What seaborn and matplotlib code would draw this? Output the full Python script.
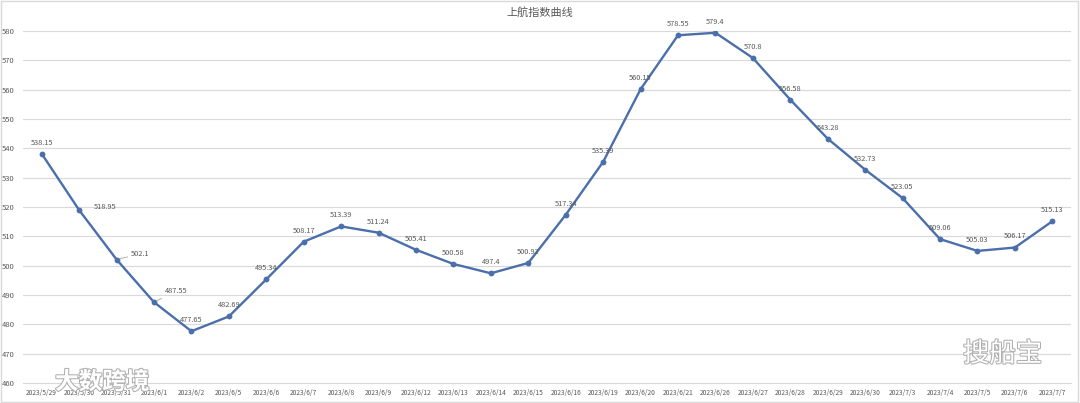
import matplotlib
matplotlib.use("Agg")
import matplotlib.pyplot as plt
import matplotlib.patheffects as pe
from matplotlib.patches import Rectangle
import seaborn as sns
import pandas as pd

dates = ["2023/5/29", "2023/5/30", "2023/5/31", "2023/6/1", "2023/6/2", "2023/6/5",
         "2023/6/6", "2023/6/7", "2023/6/8", "2023/6/9", "2023/6/12", "2023/6/13",
         "2023/6/14", "2023/6/15", "2023/6/16", "2023/6/19", "2023/6/20", "2023/6/21",
         "2023/6/26", "2023/6/27", "2023/6/28", "2023/6/29", "2023/6/30", "2023/7/3",
         "2023/7/4", "2023/7/5", "2023/7/6", "2023/7/7"]
values = [538.15, 518.95, 502.1, 487.55, 477.65, 482.69, 495.34, 508.17, 513.39, 511.24,
          505.41, 500.58, 497.4, 500.92, 517.34, 535.39, 560.15, 578.55, 579.4, 570.8,
          556.58, 543.28, 532.73, 523.05, 509.06, 505.03, 506.17, 515.13]
labels = ["538.15", "518.95", "502.1", "487.55", "477.65", "482.69", "495.34", "508.17",
          "513.39", "511.24", "505.41", "500.58", "497.4", "500.92", "517.34", "535.39",
          "560.15", "578.55", "579.4", "570.8", "556.58", "543.28", "532.73", "523.05",
          "509.06", "505.03", "506.17", "515.13"]
yticks = list(range(460, 581, 10))
title = "上航指数曲线"

sns.set_theme(style="white")
plt.rcParams['font.family'] = ['Noto Sans CJK SC', 'DejaVu Sans']

df = pd.DataFrame({"date": dates, "value": values})

fig = plt.figure(figsize=(10.8, 4.03), dpi=100)
ax = fig.add_axes([23 / 1080, 1 - 383 / 403, 1048 / 1080, 352 / 403])

line_color = "#4a6fab"
sns.lineplot(data=df, x="date", y="value", sort=False, ax=ax, color=line_color,
             linewidth=1.7, marker="o", markersize=4.2, markeredgewidth=0,
             markerfacecolor=line_color)

ax.set_xlim(-0.5, len(dates) - 0.5)
ax.set_ylim(460, 580)
ax.set_yticks(yticks)
ax.set_yticklabels([str(t) for t in yticks])
ax.set_xlabel("")
ax.set_ylabel("")
ax.grid(axis="y", color="#d9d9d9", linewidth=0.8)
ax.grid(axis="x", visible=False)
for s in ["top", "right", "left"]:
    ax.spines[s].set_visible(False)
ax.spines["bottom"].set_color("#d9d9d9")
ax.spines["bottom"].set_linewidth(0.8)
ax.tick_params(axis="x", labelsize=4.8, colors="#595959", length=0, pad=4)
ax.tick_params(axis="y", labelsize=5.5, colors="#595959", length=0, pad=3)
for t in ax.get_yticklabels():
    t.set_horizontalalignment("left")
    t.set_x(-17 / 1048)

# data labels (offsets in points)
offsets = {1: (19, 2), 2: (17, 4), 3: (16, 8)}
for i, (v, lab) in enumerate(zip(values, labels)):
    dx, dy = offsets.get(i, (0, 8))
    kw = {}
    if i in (2, 3):
        kw["arrowprops"] = dict(arrowstyle="-", color="#a6a6a6", lw=0.6,
                                shrinkA=0, shrinkB=2)
    ax.annotate(lab, (i, v), xytext=(dx, dy), textcoords="offset points",
                ha="center", va="center", fontsize=5.3, color="#595959", **kw)

fig.text(0.5, 1 - 12 / 403, title, ha="center", va="center", fontsize=8,
         color="#595959")

# chart border
fig.patches.append(Rectangle((0.001, 0.002), 0.997, 0.995, transform=fig.transFigure,
                             fill=False, edgecolor="#d9d9d9", linewidth=1))

# watermarks
stroke = [pe.withStroke(linewidth=1.5, foreground="#b0b0b0")]
fig.text(55 / 1080, 1 - 382 / 403, "大数跨境", ha="left", va="center", fontsize=17,
         color="white", path_effects=stroke, fontweight="bold")
fig.text(963 / 1080, 1 - 354 / 403, "搜船宝", ha="left", va="center", fontsize=19,
         color="white", path_effects=stroke)

fig.savefig("out.png", dpi=100)
